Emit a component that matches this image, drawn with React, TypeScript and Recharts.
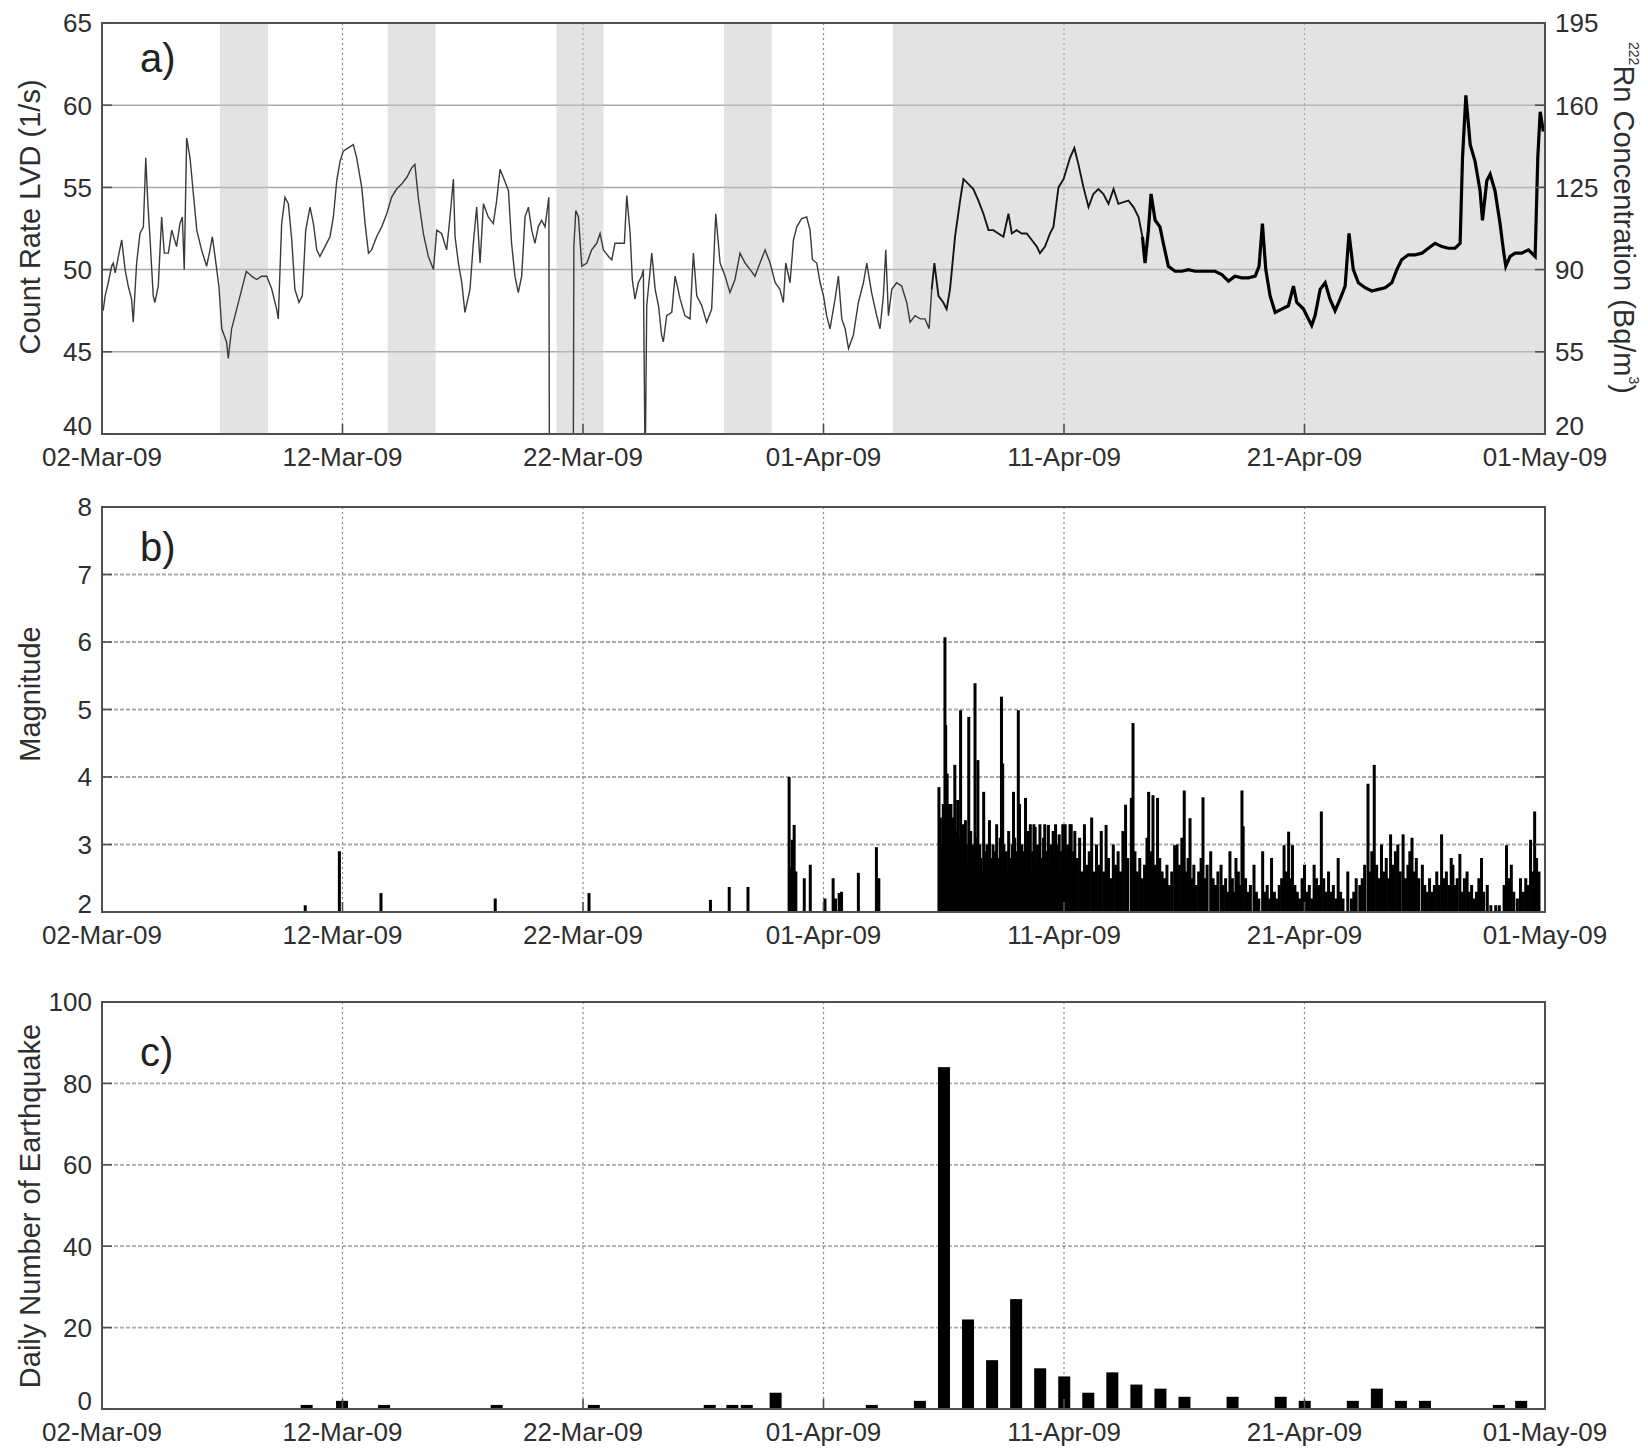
import React from 'react';
import { ComposedChart, Line, Bar, XAxis, YAxis, CartesianGrid, ReferenceArea } from 'recharts';

// ---------- shared axis data ----------
const dateTickDays = [0, 10, 20, 30, 40, 50, 60];
const dateTickLabels = ['02-Mar-09', '12-Mar-09', '22-Mar-09', '01-Apr-09', '11-Apr-09', '21-Apr-09', '01-May-09'];
const countTicks = [40, 45, 50, 55, 60, 65];
const radonTicks = [20, 55, 90, 125, 160, 195];
const magnitudeTicks = [2, 3, 4, 5, 6, 7, 8];
const dailyTicks = [0, 20, 40, 60, 80, 100];

// weekend (shaded) intervals, days since 02-Mar-09
const shadeStarts = [4.9, 11.88, 18.9, 25.86, 32.88];
const shadeEnds = [6.9, 13.87, 20.85, 27.85, 60];

// ---------- panel a: LVD count rate ----------
const countDays = [
  0.05, 0.13, 0.26, 0.4, 0.47, 0.55, 0.68, 0.82, 0.96, 1.09, 1.23, 1.3, 1.44, 1.58, 1.72, 1.82, 1.9, 2.0, 2.13, 2.2,
  2.34, 2.48, 2.59, 2.76, 2.9, 3.1, 3.24, 3.34, 3.42, 3.52, 3.66, 3.8, 3.94, 4.14, 4.35, 4.49, 4.59, 4.7, 4.86, 4.98,
  5.18, 5.25, 5.39, 5.6, 5.81, 6.0, 6.22, 6.43, 6.64, 6.85, 7.06, 7.26, 7.33, 7.47, 7.61, 7.75, 7.89, 8.02, 8.19, 8.33,
  8.47, 8.65, 8.79, 8.93, 9.06, 9.27, 9.48, 9.62, 9.76, 9.9, 10.03, 10.24, 10.45, 10.59, 10.8, 10.94, 11.08, 11.21, 11.42, 11.63,
  11.84, 12.04, 12.25, 12.46, 12.67, 12.88, 13.01, 13.15, 13.36, 13.57, 13.78, 13.92, 14.12, 14.33, 14.47, 14.61, 14.68, 14.82, 14.96, 15.09,
  15.3, 15.44, 15.58, 15.72, 15.86, 16.06, 16.27, 16.41, 16.55, 16.69, 16.9, 17.03, 17.17, 17.31, 17.45, 17.59, 17.73, 17.87, 18.0, 18.14,
  18.28, 18.42, 18.58, 18.6, 19.6, 19.62, 19.7, 19.81, 19.95, 20.16, 20.36, 20.57, 20.71, 20.85, 21.06, 21.2, 21.33, 21.54, 21.72, 21.82,
  21.96, 22.05, 22.16, 22.3, 22.44, 22.51, 22.57, 22.6, 22.65, 22.86, 23.0, 23.14, 23.27, 23.34, 23.48, 23.69, 23.83, 24.04, 24.24, 24.45,
  24.59, 24.73, 24.94, 25.14, 25.35, 25.52, 25.7, 25.91, 26.11, 26.32, 26.53, 26.74, 26.95, 27.15, 27.36, 27.57, 27.78, 27.99, 28.19, 28.33,
  28.43, 28.61, 28.75, 28.89, 29.09, 29.3, 29.44, 29.54, 29.72, 29.86, 30.0, 30.13, 30.27, 30.48, 30.62, 30.76, 30.9, 31.04, 31.24, 31.45,
  31.66, 31.8, 32.0, 32.21, 32.35, 32.49, 32.59, 32.7, 32.84, 33.04, 33.25, 33.46, 33.6, 33.81, 34.02, 34.22, 34.39, 34.5, 34.61, 34.78,
  34.98, 35.12, 35.26, 35.47, 35.68, 35.82, 36.03, 36.23, 36.44, 36.65, 36.86, 37.06, 37.27, 37.48, 37.69, 37.83, 38.03, 38.24, 38.45, 38.66,
  38.87, 39.0, 39.21, 39.42, 39.56, 39.77, 39.98, 40.25, 40.43, 40.6, 40.81, 41.02, 41.22, 41.43, 41.64, 41.85, 42.06, 42.26, 42.47, 42.68,
  42.89, 43.1, 43.26, 43.37, 43.51, 43.62, 43.79, 43.99, 44.13, 44.34, 44.62, 44.9, 45.17, 45.45, 45.73, 46.0, 46.28, 46.56, 46.84, 47.11,
  47.39, 47.67, 47.95, 48.11, 48.25, 48.39, 48.57, 48.78, 49.05, 49.33, 49.54, 49.68, 49.96, 50.16, 50.3, 50.44, 50.65, 50.86, 51.06, 51.27,
  51.48, 51.69, 51.85, 52.03, 52.24, 52.52, 52.8, 53.07, 53.35, 53.63, 53.84, 54.04, 54.32, 54.6, 54.88, 55.15, 55.43, 55.71, 55.98, 56.26,
  56.47, 56.57, 56.71, 56.89, 57.09, 57.3, 57.4, 57.58, 57.72, 57.92, 58.13, 58.27, 58.37, 58.55, 58.76, 59.03, 59.31, 59.59, 59.7, 59.8,
  59.93,
];
const countRates = [
  47.5, 48.4, 49.2, 50.2, 50.4, 49.8, 50.8, 51.8, 50.0, 49.0, 48.2, 46.8, 50.4, 52.2, 52.6, 56.8, 54.2, 51.8, 48.4, 48.0,
  49.0, 53.2, 51.0, 51.0, 52.4, 51.4, 52.8, 53.2, 50.0, 58.0, 56.8, 54.6, 52.4, 51.2, 50.2, 51.2, 52.0, 50.8, 49.0, 46.4,
  45.6, 44.6, 46.4, 47.6, 48.8, 49.9, 49.6, 49.4, 49.6, 49.6, 48.8, 47.6, 47.0, 52.8, 54.4, 54.0, 51.8, 48.8, 48.0, 48.4,
  52.4, 53.8, 52.8, 51.2, 50.8, 51.4, 52.0, 53.2, 55.4, 56.6, 57.2, 57.4, 57.6, 56.8, 55.0, 52.8, 51.0, 51.2, 52.0, 52.6,
  53.4, 54.4, 54.9, 55.2, 55.6, 56.2, 56.4, 54.4, 52.2, 50.8, 50.0, 52.4, 52.2, 51.2, 53.2, 55.5, 52.0, 50.4, 49.2, 47.4,
  48.8, 51.6, 53.8, 50.4, 54.0, 53.2, 52.8, 54.2, 56.1, 55.6, 54.8, 51.6, 49.6, 48.6, 49.6, 53.2, 53.8, 52.4, 51.6, 52.6,
  53.0, 52.6, 54.4, 40.0, 40.0, 51.4, 53.6, 53.2, 50.2, 50.4, 51.2, 51.6, 52.2, 51.2, 50.8, 50.6, 51.6, 51.6, 51.6, 54.5,
  52.2, 49.4, 48.2, 49.2, 49.6, 50.0, 40.0, 40.0, 47.8, 51.0, 48.8, 47.8, 46.0, 45.6, 47.2, 47.4, 49.6, 48.2, 47.2, 47.0,
  51.0, 48.4, 47.8, 46.8, 47.6, 53.4, 50.4, 49.6, 48.6, 49.4, 51.0, 50.4, 50.0, 49.6, 50.4, 51.2, 50.4, 49.2, 48.8, 48.0,
  50.4, 49.2, 51.8, 52.6, 53.1, 53.2, 52.4, 50.6, 50.4, 49.2, 48.4, 47.2, 46.4, 48.2, 49.6, 47.0, 46.4, 45.2, 46.0, 48.0,
  49.2, 50.4, 48.6, 47.2, 46.4, 48.4, 51.2, 47.2, 48.8, 49.2, 49.0, 48.0, 46.8, 47.2, 47.0, 47.0, 46.4, 48.8, 50.4, 48.4,
  48.0, 47.6, 48.8, 52.0, 54.2, 55.5, 55.2, 54.9, 54.2, 53.4, 52.4, 52.4, 52.2, 52.0, 53.4, 52.2, 52.4, 52.2, 52.2, 51.8,
  51.4, 51.0, 51.4, 52.2, 52.6, 55.0, 55.5, 56.8, 57.4, 56.4, 55.0, 53.8, 54.6, 54.9, 54.6, 54.0, 54.9, 54.0, 54.1, 54.2,
  53.8, 53.2, 52.0, 50.4, 52.4, 54.6, 53.0, 52.6, 51.6, 50.2, 49.9, 49.9, 50.0, 49.9, 49.9, 49.9, 49.9, 49.7, 49.3, 49.6,
  49.5, 49.5, 49.6, 50.2, 52.8, 50.0, 48.4, 47.4, 47.6, 47.8, 49.0, 48.0, 47.6, 47.0, 46.6, 47.2, 48.8, 49.2, 48.2, 47.5,
  48.2, 49.0, 52.2, 50.0, 49.2, 48.9, 48.7, 48.8, 48.9, 49.2, 50.0, 50.6, 50.9, 50.9, 51.0, 51.3, 51.6, 51.4, 51.3, 51.3,
  51.6, 56.8, 60.6, 57.6, 56.6, 54.8, 53.0, 55.4, 55.8, 54.8, 52.8, 51.2, 50.2, 50.8, 51.0, 51.0, 51.2, 50.8, 56.8, 59.6,
  58.4,
];
// days where the trace style changes (thin -> medium -> heavy)
const styleBreakDays = [34.5, 43.26];

// ---------- panel b: earthquake magnitudes ----------
const quakeDays = [
  8.45, 9.87, 11.6, 16.35, 20.25, 25.3, 26.08, 26.86, 28.57, 28.63, 28.7, 28.78, 28.85, 29.2, 29.45, 30.06, 30.4, 30.5, 30.65, 30.75,
  31.45, 32.2, 32.3,
  34.8, 34.86, 34.92, 34.98, 35.05, 35.08, 35.11, 35.14, 35.17, 35.2, 35.23, 35.26, 35.3, 35.34, 35.38, 35.42, 35.46, 35.5, 35.54, 35.58,
  35.62, 35.66, 35.7, 35.74, 35.78, 35.82, 35.86, 35.9, 35.94, 35.98, 36.04, 36.08, 36.12, 36.16, 36.2, 36.25, 36.3, 36.34, 36.38, 36.42,
  36.46, 36.5, 36.55, 36.6, 36.66, 36.7, 36.75, 36.8, 36.85, 36.9, 36.95, 37.0, 37.05, 37.1, 37.15, 37.2, 37.25, 37.3, 37.35, 37.4,
  37.45, 37.5, 37.55, 37.6, 37.65, 37.7, 37.75, 37.8, 37.85, 37.9, 37.95, 38.0, 38.05, 38.1, 38.15, 38.2, 38.25, 38.3, 38.35, 38.4,
  38.45, 38.5, 38.55, 38.6, 38.65, 38.7, 38.75, 38.8, 38.85, 38.9, 38.95, 39.0, 39.05, 39.1, 39.15, 39.2, 39.25, 39.3, 39.35, 39.4,
  39.45, 39.5, 39.55, 39.6, 39.65, 39.7, 39.75, 39.8, 39.85, 39.9, 39.95, 40.0, 40.05, 40.1, 40.15, 40.2, 40.25, 40.3, 40.35, 40.4,
  40.45, 40.55, 40.65, 40.75, 40.85, 40.95, 41.05, 41.15, 41.25, 41.35, 41.45, 41.55, 41.65, 41.75, 41.85, 41.95, 42.05, 42.15, 42.25, 42.35,
  42.45, 42.56, 42.65, 42.8, 42.87, 42.95, 43.05, 43.15, 43.25, 43.35, 43.45, 43.52, 43.6, 43.7, 43.8, 43.89, 43.98, 44.08, 44.18, 44.28,
  44.38, 44.48, 44.6, 44.7, 44.8, 44.9, 45.0, 45.08, 45.16, 45.24, 45.32, 45.4, 45.5, 45.6, 45.7, 45.78, 45.86, 45.95, 46.1, 46.2,
  46.3, 46.4, 46.53, 46.62, 46.72, 46.8, 46.9, 47.0, 47.08, 47.15, 47.25, 47.32, 47.4, 47.45, 47.55, 47.65, 47.75, 47.9, 48.0, 48.1,
  48.26, 48.35, 48.45, 48.55, 48.63, 48.75, 48.85, 48.95, 49.05, 49.15, 49.25, 49.34, 49.42, 49.5, 49.6, 49.7, 49.8, 49.9, 50.0, 50.1,
  50.2, 50.3, 50.4, 50.5, 50.6, 50.7, 50.8, 50.9, 51.0, 51.1, 51.2, 51.3, 51.4, 51.5, 51.6, 51.8, 51.95, 52.05, 52.15, 52.3,
  52.4, 52.5, 52.64, 52.72, 52.8, 52.9, 53.0, 53.1, 53.2, 53.3, 53.4, 53.5, 53.58, 53.68, 53.78, 53.88, 53.98, 54.1, 54.2, 54.3,
  54.38, 54.47, 54.56, 54.65, 54.75, 54.9, 55.0, 55.1, 55.2, 55.3, 55.4, 55.5, 55.6, 55.7, 55.8, 55.9, 56.0, 56.1, 56.17, 56.25,
  56.35, 56.46, 56.55, 56.65, 56.76, 56.85, 56.95, 57.05, 57.15, 57.25, 57.36, 57.45, 57.6, 57.75, 57.95, 58.1, 58.3, 58.4, 58.5, 58.6,
  58.7, 58.85, 58.98, 59.1, 59.2, 59.3, 59.4, 59.48, 59.57, 59.65, 59.75,
];
const quakeMagnitudes = [
  2.1, 2.9, 2.28, 2.2, 2.28, 2.18, 2.37, 2.37, 4.0, 2.67, 3.07, 3.29, 2.6, 2.5, 2.7, 2.2, 2.5, 2.2, 2.28, 2.3,
  2.58, 2.96, 2.5,
  3.85, 3.4, 3.0, 3.6, 6.07, 4.77, 3.9, 4.05, 3.3, 3.5, 3.6, 3.1, 3.6, 3.2, 3.4, 3.0, 4.18, 3.2, 2.9, 3.66,
  3.1, 2.8, 4.99, 3.0, 2.9, 3.3, 2.8, 3.36, 3.0, 2.7, 4.89, 3.0, 3.2, 2.8, 3.0, 2.7, 5.39, 3.1, 2.9, 4.25,
  2.7, 3.0, 2.8, 2.6, 3.78, 2.9, 2.7, 3.0, 2.6, 3.36, 2.8, 2.6, 3.0, 2.7, 2.9, 3.3, 2.6, 2.8, 3.1, 5.19,
  4.2, 3.0, 2.7, 2.9, 2.6, 3.2, 2.8, 2.6, 3.0, 3.78, 3.1, 2.9, 2.7, 4.99, 3.6, 2.8, 3.0, 2.6, 2.9, 3.69,
  2.7, 3.2, 2.8, 3.3, 2.6, 2.9, 3.3, 3.26, 2.7, 3.0, 2.6, 3.3, 2.8, 2.7, 3.1, 3.3, 2.6, 2.9, 3.29, 2.7,
  3.0, 2.6, 3.2, 2.8, 3.3, 2.7, 3.0, 3.15, 2.6, 2.9, 3.3, 2.7, 3.3, 2.8, 3.0, 2.6, 3.3, 3.3, 2.7, 2.9,
  3.2, 2.8, 3.1, 2.6, 3.3, 2.7, 2.9, 3.4, 2.6, 3.0, 2.7, 3.2, 2.6, 3.29, 2.8, 2.5, 3.0, 2.7, 2.9, 2.6,
  3.2, 3.59, 2.8, 3.69, 4.8, 2.9, 2.6, 2.8, 2.5, 2.7, 3.1, 3.78, 2.9, 3.73, 2.7, 3.69, 2.8, 2.6, 2.5, 2.7,
  2.4, 2.6, 2.99, 3.0, 2.7, 3.1, 3.8, 2.6, 2.8, 3.39, 2.5, 2.7, 2.4, 2.6, 2.8, 3.7, 2.5, 2.7, 2.9, 2.5,
  2.4, 2.6, 2.7, 2.4, 2.5, 2.3, 2.9, 2.5, 2.3, 2.8, 2.6, 2.4, 3.8, 3.27, 2.5, 2.3, 2.4, 2.7, 2.3, 2.2,
  2.9, 2.3, 2.4, 2.2, 2.8, 2.3, 2.2, 2.4, 2.5, 2.99, 2.6, 3.19, 2.5, 2.99, 2.4, 2.3, 2.2, 2.5, 2.7, 2.3,
  2.4, 2.2, 2.7, 2.5, 2.4, 3.49, 2.5, 2.3, 2.6, 2.3, 2.4, 2.2, 2.8, 2.3, 2.2, 2.6, 2.2, 2.3, 2.5, 2.4,
  2.5, 2.7, 3.9, 2.6, 2.9, 4.18, 2.7, 2.5, 3.0, 2.6, 2.8, 2.5, 3.15, 2.7, 2.9, 3.0, 2.6, 3.15, 2.5, 2.7,
  2.9, 3.1, 2.6, 2.8, 2.5, 2.7, 2.4, 2.3, 2.5, 2.3, 2.4, 2.6, 2.4, 3.15, 2.5, 2.6, 2.4, 2.8, 2.7, 2.4,
  2.5, 2.86, 2.3, 2.5, 2.6, 2.3, 2.4, 2.2, 2.3, 2.5, 2.8, 2.3, 2.4, 2.1, 2.1, 2.1, 2.4, 2.99, 2.5, 2.7,
  2.3, 2.2, 2.5, 2.3, 2.5, 2.4, 3.07, 2.6, 3.49, 2.8, 2.6,
];

// ---------- panel c: daily number of earthquakes ----------
const dailyDays = [8.5, 9.97, 11.72, 16.4, 20.44, 25.26, 26.2, 26.8, 28.0, 32.0, 34.0, 35, 36, 37, 38, 39, 40, 41, 42, 43, 44, 45, 47, 49, 50, 52, 53, 54, 55, 58.07, 59];
const dailyCounts = [1, 2, 1, 1, 1, 1, 1, 1, 4, 1, 2, 84, 22, 12, 27, 10, 8, 4, 9, 6, 5, 3, 3, 3, 2, 2, 5, 2, 2, 1, 2];

// ---------- rows built from the arrays ----------
const countRows = countDays.map((d, i) => ({
  day: d,
  thin: d <= styleBreakDays[0] ? countRates[i] : null,
  medium: d >= styleBreakDays[0] && d <= styleBreakDays[1] ? countRates[i] : null,
  heavy: d >= styleBreakDays[1] ? countRates[i] : null,
}));
const quakeRows = quakeDays.map((d, i) => ({ day: d, mag: quakeMagnitudes[i] }));
const dailyRows = dailyDays.map((d, i) => ({ day: d, count: dailyCounts[i] }));

// ---------- styling ----------
const FONT = '"Liberation Sans", Arial, sans-serif';
const TEXT = '#2e2e2e';
const FRAME = '#505050';
const X_MARGIN = 13;
const Y_MARGIN = 10;
const TICK_LEN = 10;
const BOTTOM_LABEL_LIFT = 8;
const W = 1648;

const DateTick = (p: any) => {
  const i = dateTickDays.indexOf(p.payload.value);
  return (
    <g>
      <line x1={p.x} x2={p.x} y1={p.y - X_MARGIN} y2={p.y - X_MARGIN - TICK_LEN} stroke={FRAME} strokeWidth={1.6} />
      <text x={p.x} y={p.y} dy="0.72em" textAnchor="middle" fontSize={26} fontFamily={FONT} fill={TEXT}>
        {dateTickLabels[i]}
      </text>
    </g>
  );
};

const TopMark = (p: any) => (
  <line x1={p.x} x2={p.x} y1={p.y} y2={p.y + TICK_LEN} stroke={FRAME} strokeWidth={1.6} />
);

const LeftTick = (p: any) => (
  <g>
    <line x1={p.x + Y_MARGIN} x2={p.x + Y_MARGIN + TICK_LEN} y1={p.y} y2={p.y} stroke={FRAME} strokeWidth={1.6} />
    <text x={p.x} y={p.y - (p.index === 0 ? BOTTOM_LABEL_LIFT : 0)} dy="0.36em" textAnchor="end" fontSize={26} fontFamily={FONT} fill={TEXT}>
      {p.payload.value}
    </text>
  </g>
);

const RightTick = (p: any) => (
  <g>
    <line x1={p.x - Y_MARGIN} x2={p.x - Y_MARGIN - TICK_LEN} y1={p.y} y2={p.y} stroke={FRAME} strokeWidth={1.6} />
    <text x={p.x} y={p.y - (p.index === 0 ? BOTTOM_LABEL_LIFT : 0)} dy="0.36em" textAnchor="start" fontSize={26} fontFamily={FONT} fill={TEXT}>
      {p.payload.value}
    </text>
  </g>
);

const RightMark = (p: any) => (
  <line x1={p.x - Y_MARGIN} x2={p.x - Y_MARGIN - TICK_LEN} y1={p.y} y2={p.y} stroke={FRAME} strokeWidth={1.6} />
);

const makeStem = (w: number) => (p: any) => {
  if (!p || !(p.height > 0)) return <g />;
  return <rect x={p.x + p.width / 2 - w / 2} y={p.y} width={w} height={p.height} fill="#000" />;
};
const StemThin = makeStem(3);
const StemWide = makeStem(12);

const xAxisProps = {
  dataKey: 'day',
  type: 'number' as const,
  domain: [0, 60],
  ticks: dateTickDays,
  interval: 0 as const,
  allowDataOverflow: true,
  height: 40,
  tickSize: 0,
  tickMargin: X_MARGIN,
  axisLine: false,
  tickLine: false,
  tick: DateTick,
};

const topAxisProps = {
  xAxisId: 'top',
  orientation: 'top' as const,
  dataKey: 'day',
  type: 'number' as const,
  domain: [0, 60],
  ticks: dateTickDays.slice(1, -1),
  interval: 0 as const,
  allowDataOverflow: true,
  height: 0,
  tickSize: 0,
  tickMargin: 0,
  axisLine: false,
  tickLine: false,
  tick: TopMark,
};

function PanelA() {
  return (
    <ComposedChart width={W} height={480} data={countRows} margin={{ top: 23, right: 0, bottom: 6, left: 0 }}>
      <CartesianGrid yAxisId="count" vertical={false} stroke="#a9a9a9" strokeWidth={1.5} />
      <CartesianGrid yAxisId="count" horizontal={false} stroke="#8a8a8a" strokeWidth={1.2} strokeDasharray="2 3" />
      {shadeStarts.map((s, i) => (
        <ReferenceArea key={i} yAxisId="count" x1={s} x2={shadeEnds[i]} y1={40} y2={65} fill="#c4c4c4" fillOpacity={0.48} stroke="none" zIndex={-50} />
      ))}
      <XAxis {...xAxisProps} />
      <XAxis {...topAxisProps} />
      <YAxis yAxisId="count" domain={[40, 65]} ticks={countTicks} interval={0} allowDataOverflow width={102} tickSize={0} tickMargin={Y_MARGIN} axisLine={false} tickLine={false} tick={LeftTick} />
      <YAxis yAxisId="radon" orientation="right" domain={[20, 195]} ticks={radonTicks} interval={0} allowDataOverflow width={103} tickSize={0} tickMargin={Y_MARGIN} axisLine={false} tickLine={false} tick={RightTick} />
      <Line yAxisId="count" dataKey="thin" type="linear" stroke="#3a3a3a" strokeWidth={1.4} dot={false} isAnimationActive={false} connectNulls={false} />
      <Line yAxisId="count" dataKey="medium" type="linear" stroke="#151515" strokeWidth={1.9} dot={false} isAnimationActive={false} connectNulls={false} />
      <Line yAxisId="count" dataKey="heavy" type="linear" stroke="#000" strokeWidth={3.2} dot={false} isAnimationActive={false} connectNulls={false} />
      <ReferenceArea yAxisId="count" x1={0} x2={60} y1={40} y2={65} fill="none" fillOpacity={0} stroke={FRAME} strokeWidth={2} zIndex={900} />
    </ComposedChart>
  );
}

function PanelB() {
  return (
    <ComposedChart width={W} height={480} data={quakeRows} margin={{ top: 27, right: 0, bottom: 8, left: 0 }}>
      <CartesianGrid yAxisId="mag" vertical={false} stroke="#a9a9a9" strokeWidth={1.8} strokeDasharray="4 2" />
      <CartesianGrid yAxisId="mag" horizontal={false} stroke="#8a8a8a" strokeWidth={1.2} strokeDasharray="2 3" />
      <XAxis {...xAxisProps} />
      <XAxis {...topAxisProps} />
      <YAxis yAxisId="mag" domain={[2, 8]} ticks={magnitudeTicks} interval={0} allowDataOverflow width={102} tickSize={0} tickMargin={Y_MARGIN} axisLine={false} tickLine={false} tick={LeftTick} />
      <YAxis yAxisId="magR" orientation="right" domain={[2, 8]} ticks={magnitudeTicks} interval={0} allowDataOverflow width={103} tickSize={0} tickMargin={Y_MARGIN} axisLine={false} tickLine={false} tick={RightMark} />
      <Bar yAxisId="mag" dataKey="mag" isAnimationActive={false} shape={StemThin} />
      <ReferenceArea yAxisId="mag" x1={0} x2={60} y1={2} y2={8} fill="none" fillOpacity={0} stroke={FRAME} strokeWidth={2} zIndex={900} />
    </ComposedChart>
  );
}

function PanelC() {
  return (
    <ComposedChart width={W} height={478} data={dailyRows} margin={{ top: 27, right: 0, bottom: 4, left: 0 }}>
      <CartesianGrid yAxisId="cnt" vertical={false} stroke="#a9a9a9" strokeWidth={1.8} strokeDasharray="4 2" />
      <CartesianGrid yAxisId="cnt" horizontal={false} stroke="#8a8a8a" strokeWidth={1.2} strokeDasharray="2 3" />
      <XAxis {...xAxisProps} />
      <XAxis {...topAxisProps} />
      <YAxis yAxisId="cnt" domain={[0, 100]} ticks={dailyTicks} interval={0} allowDataOverflow width={102} tickSize={0} tickMargin={Y_MARGIN} axisLine={false} tickLine={false} tick={LeftTick} />
      <YAxis yAxisId="cntR" orientation="right" domain={[0, 100]} ticks={dailyTicks} interval={0} allowDataOverflow width={103} tickSize={0} tickMargin={Y_MARGIN} axisLine={false} tickLine={false} tick={RightMark} />
      <Bar yAxisId="cnt" dataKey="count" isAnimationActive={false} shape={StemWide} />
      <ReferenceArea yAxisId="cnt" x1={0} x2={60} y1={0} y2={100} fill="none" fillOpacity={0} stroke={FRAME} strokeWidth={2} zIndex={900} />
    </ComposedChart>
  );
}

export default function App() {
  const titleStyle = { fontFamily: FONT, fontSize: 29, fill: TEXT } as any;
  const letterStyle = { fontFamily: FONT, fontSize: 40, fill: '#222' } as any;
  return (
    <div style={{ position: 'absolute', left: 0, top: 0, width: 1648, height: 1453, background: '#fff', fontFamily: FONT }}>
      <div style={{ position: 'absolute', left: 0, top: 0 }}><PanelA /></div>
      <div style={{ position: 'absolute', left: 0, top: 480 }}><PanelB /></div>
      <div style={{ position: 'absolute', left: 0, top: 975 }}><PanelC /></div>
      <svg width={1648} height={1453} style={{ position: 'absolute', left: 0, top: 0, pointerEvents: 'none' }}>
        <text x={140} y={72} style={letterStyle}>a)</text>
        <text x={140} y={561} style={letterStyle}>b)</text>
        <text x={140} y={1066} style={letterStyle}>c)</text>
        <text x={30} y={217} transform="rotate(-90 30 217)" textAnchor="middle" dominantBaseline="central" style={titleStyle}>Count Rate LVD (1/s)</text>
        <text x={30} y={694} transform="rotate(-90 30 694)" textAnchor="middle" dominantBaseline="central" style={titleStyle}>Magnitude</text>
        <text x={30} y={1206} transform="rotate(-90 30 1206)" textAnchor="middle" dominantBaseline="central" style={titleStyle}>Daily Number of Earthquake</text>
        <text x={1624} y={218} transform="rotate(90 1624 218)" textAnchor="middle" dominantBaseline="central" style={titleStyle}>
          <tspan fontSize={14} dy={-10}>222</tspan>
          <tspan dy={10}>Rn Concentration (Bq/m</tspan>
          <tspan fontSize={14} dy={-10}>3</tspan>
          <tspan dy={10}>)</tspan>
        </text>
      </svg>
    </div>
  );
}
